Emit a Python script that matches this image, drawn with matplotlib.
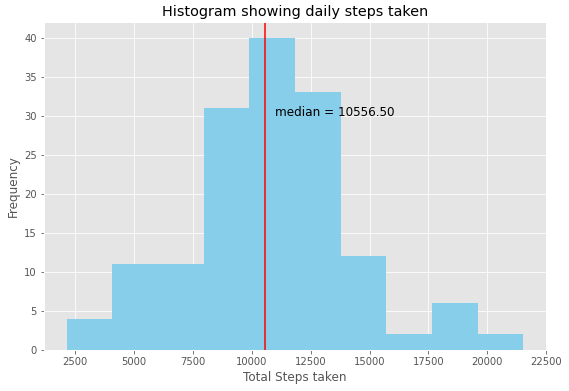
import matplotlib
matplotlib.use("Agg")
import matplotlib.pyplot as plt
import numpy as np

plt.style.use("ggplot")

bin_edges = [2140, 4078, 6016, 7954, 9892, 11830, 13768, 15706, 17644, 19582, 21520]
counts = [4, 11, 11, 31, 40, 33, 12, 2, 6, 2]
median_value = 10556.50

fig = plt.figure(figsize=(569 / 72, 391 / 72), dpi=72)
ax = fig.add_axes([0.077, 0.105, 0.883, 0.839])

ax.hist(bin_edges[:-1], bins=bin_edges, weights=counts, color="skyblue")
ax.axvline(median_value, color="red")
ax.text(median_value + 450, 30, "median = %.2f" % median_value, fontsize=12)

ax.set_xticks([2500, 5000, 7500, 10000, 12500, 15000, 17500, 20000, 22500])
ax.set_title("Histogram showing daily steps taken", fontsize=14.4)
ax.set_xlabel("Total Steps taken")
ax.set_ylabel("Frequency")

fig.savefig("out.png", dpi=72)
